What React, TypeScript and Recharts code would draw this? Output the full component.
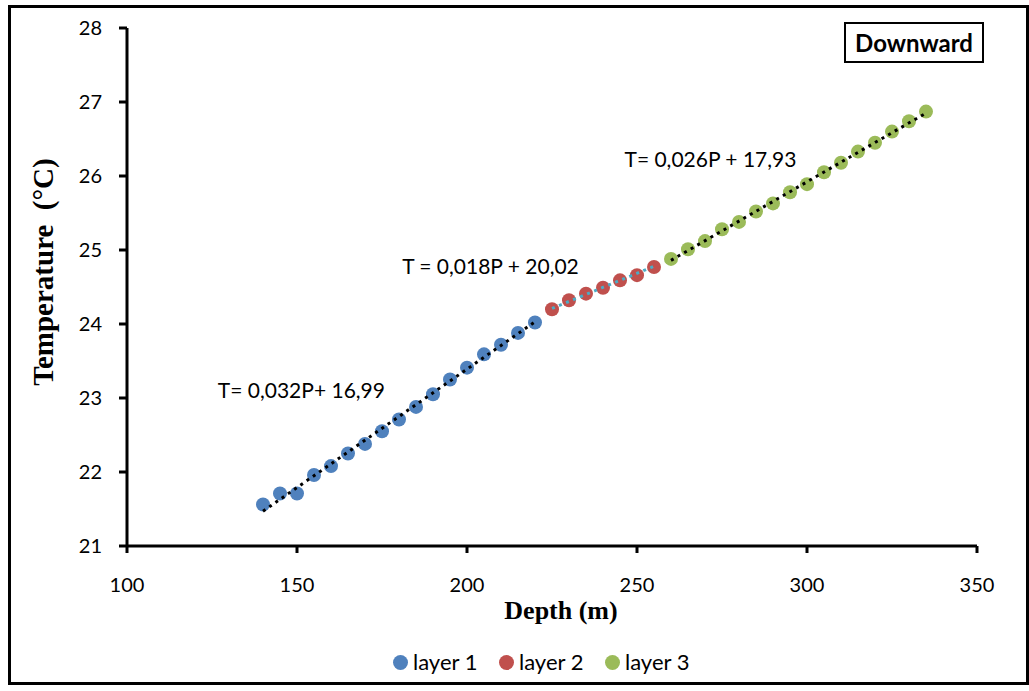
import React from 'react';
import { ComposedChart, Scatter, XAxis, YAxis, Legend, ReferenceDot, Label } from 'recharts';

// Depth (m) and temperature (°C)
const depth1 = [140, 145, 150, 155, 160, 165, 170, 175, 180, 185, 190, 195, 200, 205, 210, 215, 220];
const temp1 = [21.56, 21.71, 21.71, 21.96, 22.08, 22.25, 22.38, 22.55, 22.71, 22.88, 23.05, 23.25, 23.41, 23.59, 23.72, 23.88, 24.02];

const depth2 = [225, 230, 235, 240, 245, 250, 255];
const temp2 = [24.2, 24.32, 24.41, 24.49, 24.59, 24.66, 24.77];

const depth3 = [260, 265, 270, 275, 280, 285, 290, 295, 300, 305, 310, 315, 320, 325, 330, 335];
const temp3 = [24.88, 25.01, 25.12, 25.28, 25.38, 25.52, 25.63, 25.78, 25.89, 26.05, 26.18, 26.33, 26.45, 26.6, 26.74, 26.87];

// Trend line end points (depth, temperature)
const trend1Depth = [140, 220];
const trend1Temp = [21.47, 24.03];
const trend2Depth = [225, 255];
const trend2Temp = [24.21, 24.78];
const trend3Depth = [260, 335];
const trend3Temp = [24.86, 26.85];

// Equation annotations
const eqTexts = ['T= 0,032P+ 16,99', 'T = 0,018P + 20,02', 'T= 0,026P + 17,93'];
const eqDepth = [151.3, 206.9, 271.6];
const eqTemp = [23.1, 24.78, 26.22];

const seriesNames = ['layer 1', 'layer 2', 'layer 3'];
const xTicks = [100, 150, 200, 250, 300, 350];
const yTicks = [21, 22, 23, 24, 25, 26, 27, 28];

const BLUE = '#4F81BD';
const RED = '#C0504D';
const GREEN = '#9BBB59';
const CYAN = '#4BACC6';
const FONT = 'Lato';

const toPts = (xs: number[], ys: number[]) => xs.map((x, i) => ({ x, y: ys[i] }));

const dot = (color: string) => (p: any) => <circle cx={p.cx} cy={p.cy} r={7} fill={color} />;
const noDot = () => <g />;

const renderLegend = (props: any) => {
  const payload = props.payload || [];
  return (
    <div style={{ display: 'flex', paddingLeft: 393, fontFamily: FONT, fontSize: 22, color: '#000', lineHeight: '24px' }}>
      {payload.map((e: any) => (
        <div key={e.value} style={{ width: 112, display: 'flex', alignItems: 'center' }}>
          <span style={{ width: 15, height: 15, borderRadius: '50%', background: e.color, marginRight: 5, display: 'inline-block' }} />
          <span>{e.value}</span>
        </div>
      ))}
    </div>
  );
};

export default function App() {
  return (
    <div style={{ position: 'absolute', left: 0, top: 0, width: 1029, height: 691, background: '#fff' }}>
      <div style={{ position: 'absolute', left: 8, top: 5, width: 1021, height: 680, border: '3px solid #000', boxSizing: 'border-box' }} />
      <ComposedChart width={1029} height={691} margin={{ top: 28, right: 52, bottom: 85, left: 67 }} style={{ position: 'absolute', left: 0, top: 0, fontFamily: FONT }}>
        <XAxis
          type="number"
          dataKey="x"
          domain={[100, 350]}
          ticks={xTicks}
          height={60}
          axisLine={{ stroke: '#000', strokeWidth: 3 }}
          tickLine={{ stroke: '#000', strokeWidth: 3 }}
          tickSize={7}
          tickMargin={25}
          tick={{ fill: '#000', fontSize: 20, fontFamily: FONT }}
        >
          <Label
            content={(p: any) => {
              const vb = p.viewBox;
              return (
                <text x={vb.x + vb.width / 2 + 9} y={vb.y + 73} textAnchor="middle" fontFamily="Liberation Serif" fontWeight="bold" fontSize={26} fill="#000">
                  Depth (m)
                </text>
              );
            }}
          />
        </XAxis>
        <YAxis
          type="number"
          dataKey="y"
          domain={[21, 28]}
          ticks={yTicks}
          width={60}
          axisLine={{ stroke: '#000', strokeWidth: 3 }}
          tickLine={{ stroke: '#000', strokeWidth: 3 }}
          tickSize={8}
          tickMargin={17}
          tick={{ fill: '#000', fontSize: 20, fontFamily: FONT }}
        >
          <Label
            content={() => {
              const cx = 43;
              const cy = 272;
              return (
                <text x={cx} y={cy} transform={`rotate(-90 ${cx} ${cy})`} textAnchor="middle" dominantBaseline="central" fontFamily="Liberation Serif" fontWeight="bold" fontSize={29} fill="#000" style={{ whiteSpace: 'pre' }}>
                  {'Temperature  (°C)'}
                </text>
              );
            }}
          />
        </YAxis>
        <Scatter name={seriesNames[0]} data={toPts(depth1, temp1)} fill={BLUE} shape={dot(BLUE)} isAnimationActive={false} />
        <Scatter name={seriesNames[1]} data={toPts(depth2, temp2)} fill={RED} shape={dot(RED)} isAnimationActive={false} />
        <Scatter name={seriesNames[2]} data={toPts(depth3, temp3)} fill={GREEN} shape={dot(GREEN)} isAnimationActive={false} />
        <Scatter data={toPts(trend1Depth, trend1Temp)} legendType="none" line={{ stroke: '#000', strokeWidth: 3, strokeDasharray: '3 4.6' }} shape={noDot} isAnimationActive={false} />
        <Scatter data={toPts(trend2Depth, trend2Temp)} legendType="none" line={{ stroke: CYAN, strokeWidth: 3, strokeDasharray: '3 4.6' }} shape={noDot} isAnimationActive={false} />
        <Scatter data={toPts(trend3Depth, trend3Temp)} legendType="none" line={{ stroke: '#000', strokeWidth: 3, strokeDasharray: '3 4.6' }} shape={noDot} isAnimationActive={false} />
        {eqTexts.map((t, i) => (
          <ReferenceDot
            key={t}
            x={eqDepth[i]}
            y={eqTemp[i]}
            r={0}
            fill="none"
            stroke="none"
            label={{ value: t, position: 'center', fill: '#000', fontSize: 21, fontFamily: FONT }}
          />
        ))}
        <Legend
          layout="horizontal"
          verticalAlign="middle"
          align="center"
          content={renderLegend}
          wrapperStyle={{ top: 650, left: 0, width: 1029 }}
        />
      </ComposedChart>
      <div
        style={{
          position: 'absolute',
          left: 844,
          top: 22,
          width: 140,
          height: 41,
          border: '2px solid #000',
          boxSizing: 'border-box',
          display: 'flex',
          alignItems: 'center',
          justifyContent: 'center',
          fontFamily: FONT,
          fontWeight: 'bold',
          fontSize: 24,
          color: '#000',
        }}
      >
        Downward
      </div>
    </div>
  );
}
